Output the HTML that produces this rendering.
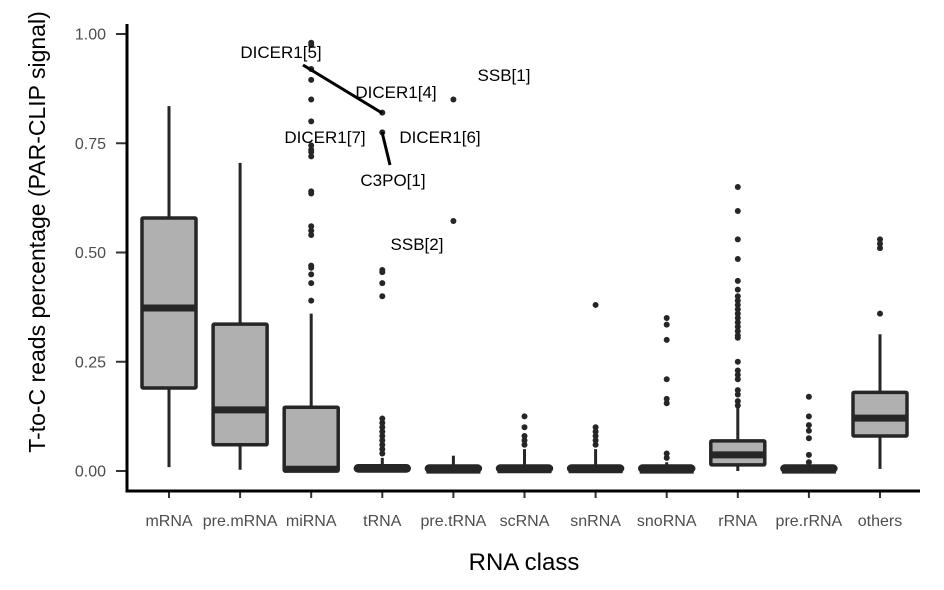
<!DOCTYPE html>
<html><head><meta charset="utf-8"><style>
body{margin:0;background:#fff}
svg{display:block;font-family:"Liberation Sans",Arial,sans-serif}
</style></head><body>
<svg id="chart" width="944" height="590" xmlns="http://www.w3.org/2000/svg">
<g id="plot"></g>
</svg>
<script>
const categories=["mRNA","pre.mRNA","miRNA","tRNA","pre.tRNA","scRNA","snRNA","snoRNA","rRNA","pre.rRNA","others"];
const lowW=[0.009,0.003,0,0,0,0,0,0,0,0,0.005];
const q1=[0.19,0.06,0,0,0,0,0,0,0.014,0,0.08];
const med=[0.373,0.14,0.004,0.006,0.002,0.003,0.003,0.002,0.037,0.002,0.121];
const q3=[0.579,0.336,0.146,0.012,0.006,0.008,0.008,0.006,0.069,0.006,0.18];
const highW=[0.835,0.705,0.36,0.03,0.035,0.05,0.05,0.02,0.145,0.02,0.313];
const outliers=[[],[],
[0.98,0.975,0.92,0.895,0.85,0.80,0.745,0.735,0.73,0.72,0.64,0.635,0.56,0.55,0.54,0.47,0.465,0.45,0.43,0.39],
[0.82,0.775,0.46,0.455,0.43,0.40,0.12,0.11,0.10,0.09,0.08,0.07,0.06,0.05,0.04],
[0.85,0.572],
[0.125,0.1,0.08,0.07,0.06],
[0.38,0.10,0.09,0.08,0.07,0.06],
[0.35,0.335,0.30,0.21,0.165,0.155,0.04,0.03],
[0.65,0.595,0.53,0.485,0.435,0.415,0.40,0.39,0.38,0.37,0.36,0.35,0.34,0.33,0.32,0.31,0.305,0.25,0.23,0.22,0.21,0.185,0.175,0.16,0.15],
[0.17,0.125,0.105,0.092,0.075,0.037,0.02],
[0.53,0.52,0.51,0.36]];
const yTicks=[0,0.25,0.5,0.75,1.0];
const yTickLabels=["0.00","0.25","0.50","0.75","1.00"];
const annLabels=["DICER1[5]","DICER1[4]","SSB[1]","DICER1[7]","DICER1[6]","C3PO[1]","SSB[2]"];

const NS="http://www.w3.org/2000/svg";
const g=document.getElementById('plot');
const y=v=>471-v*437;
const x=i=>169+i*71.1;
function el(t,a,p){const e=document.createElementNS(NS,t);for(const k in a)e.setAttribute(k,a[k]);(p||g).appendChild(e);return e;}

categories.forEach((c,i)=>{
  const cx=x(i),hw=27;
  const w=el('line',{x1:cx,x2:cx,y1:y(highW[i]),y2:y(lowW[i]),stroke:'#262626','stroke-width':3});
  
  
  const h=Math.max(y(q1[i])-y(q3[i]),5);
  const b=el('rect',{x:cx-hw,y:y(q1[i])-h,width:2*hw,height:h,fill:h>8?'#b0b0b0':'#262626',stroke:'#262626','stroke-width':3.5,rx:h>8?1:3});
  
  
  const m=el('line',{x1:cx-hw,x2:cx+hw,y1:y(med[i]),y2:y(med[i]),stroke:'#262626','stroke-width':7});
  
  
  outliers[i].forEach(v=>{
    const d=el('circle',{cx:cx,cy:y(v),r:3,fill:'#262626'});
    
    
  });
  const t=el('text',{x:cx,y:526,'text-anchor':'middle','font-size':16,fill:'#4d4d4d'});
  t.textContent=c;
  
  
  el('line',{x1:cx,x2:cx,y1:491,y2:498,stroke:'#333','stroke-width':2});
});
yTicks.forEach((v,i)=>{
  el('line',{x1:116,x2:127,y1:y(v),y2:y(v),stroke:'#333','stroke-width':2});
  const t=el('text',{x:106,y:y(v)+5.5,'text-anchor':'end','font-size':16,fill:'#4d4d4d'});
  t.textContent=yTickLabels[i];
  
  
});
el('line',{x1:303,y1:65,x2:382,y2:113,stroke:'#000','stroke-width':3});
el('line',{x1:382,y1:132,x2:390,y2:165,stroke:'#000','stroke-width':3});
const annPos=[[281,58],[396,98],[504,81],[325,143],[440,143],[393,186],[417,250]];
annLabels.forEach((s,i)=>{
  const t=el('text',{x:annPos[i][0],y:annPos[i][1],'text-anchor':'middle','font-size':17,fill:'#000'});
  t.textContent=s;
  
  
});
const ax=el('path',{d:'M127,24 V491 H920',fill:'none',stroke:'#000','stroke-width':3});


const xt=el('text',{x:524,y:570,'text-anchor':'middle','font-size':24,fill:'#000'});
xt.textContent='RNA class';


const yt=el('text',{x:0,y:0,transform:'translate(45,232) rotate(-90)','text-anchor':'middle','font-size':23,fill:'#000'});
yt.textContent='T-to-C reads percentage (PAR-CLIP signal)';


</script>
</body></html>
